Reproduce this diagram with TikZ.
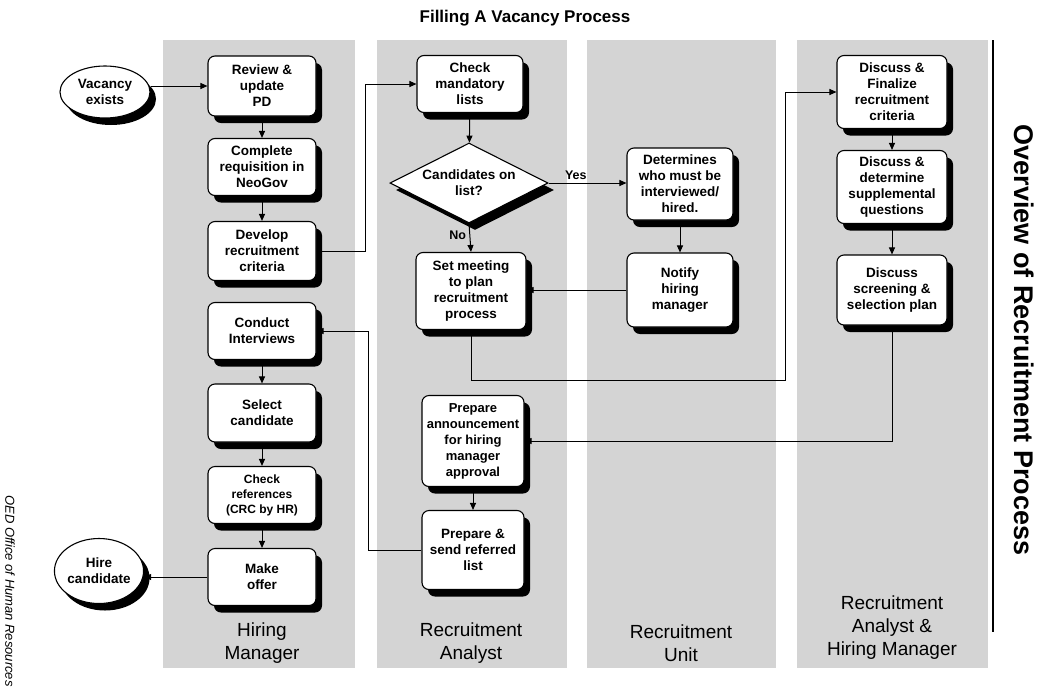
\documentclass[tikz,border=0pt]{standalone}
\usepackage{fontspec}
\setmainfont{Liberation Sans}
\usetikzlibrary{shapes.geometric,shadows,arrows.meta}
\begin{document}
\begin{tikzpicture}[x=1pt,y=-1pt,
  lane/.style={fill=black!17,draw=none},
  shad/.style={drop shadow={shadow xshift=6pt,shadow yshift=-7pt,opacity=1,fill=black}},
  box/.style={shad,draw=black,line width=1.1pt,fill=white,rounded corners=7pt,align=center,
    font=\fontsize{13.5}{16}\selectfont\bfseries,inner sep=1pt},
  term/.style={shad,ellipse,draw=black,line width=1.1pt,fill=white,align=center,
    font=\fontsize{13.5}{16}\selectfont\bfseries,inner sep=0pt},
  decis/.style={shad,diamond,aspect=2,draw=black,line width=1.1pt,fill=white,align=center,
    font=\fontsize{13.5}{16}\selectfont\bfseries,inner sep=0pt},
  arr/.style={draw=black,line width=1pt,-{Triangle[length=7pt,width=6pt]}},
  lanelbl/.style={align=center,font=\fontsize{19}{23}\selectfont},
  small/.style={font=\fontsize{12.5}{14}\selectfont\bfseries}
]
\useasboundingbox (0,0) rectangle (1045,689);
% lanes
\fill[lane] (163,40) rectangle (355,668);
\fill[lane] (377,40) rectangle (567,668);
\fill[lane] (587,40) rectangle (776,668);
\fill[lane] (797,40) rectangle (988,668);

% titles
\node[font=\fontsize{17}{20}\selectfont\bfseries] (title) at (525,18) {Filling A Vacancy Process};
\node[font=\fontsize{27}{30}\selectfont\bfseries,rotate=-90] (overview) at (1024,340) {Overview of Recruitment Process};
\node[font=\fontsize{13}{15}\selectfont\itshape,rotate=-90] (oed) at (10,591) {OED Office of Human Resources};
\coordinate (vt) at (993,40);
\coordinate (vb) at (993,632);
\draw[line width=2pt] (vt) -- (vb);

% lane labels
\node[lanelbl] (l1) at (262,643) {Hiring\\Manager};
\node[lanelbl] (l2) at (471,643) {Recruitment\\Analyst};
\node[lanelbl] (l3) at (681,643) {Recruitment\\Unit};
\node[lanelbl] (l4) at (892,628) {Recruitment\\Analyst \&\\Hiring Manager};

% Hiring manager lane
\node[term,minimum width=90pt,minimum height=52pt] (vac) at (105,92) {Vacancy\\exists};
\node[box,minimum width=108pt,minimum height=60pt] (rev) at (262,86) {Review \&\\update\\PD};
\node[box,minimum width=108pt,minimum height=57pt] (req) at (262,167) {Complete\\requisition in\\NeoGov};
\node[box,minimum width=108pt,minimum height=59pt] (dev) at (262,251) {Develop\\recruitment\\criteria};
\node[box,minimum width=108pt,minimum height=57pt] (cond) at (262,331) {Conduct\\Interviews};
\node[box,minimum width=108pt,minimum height=58pt] (sel) at (262,413) {Select\\candidate};
\node[box,minimum width=108pt,minimum height=57pt,font=\fontsize{12}{15}\selectfont\bfseries] (ref) at (262,495) {Check\\references\\(CRC by HR)};
\node[box,minimum width=108pt,minimum height=57pt] (off) at (262,577) {Make\\offer};
\node[term,minimum width=82pt,minimum height=65pt] (hire) at (99,571) {Hire\\candidate};

% Recruitment analyst lane
\node[box,minimum width=106pt,minimum height=57pt] (chk) at (470,84) {Check\\mandatory\\lists};
\node[decis,minimum width=158pt,minimum height=80pt] (dia) at (469,183) {Candidates on\\list?};
\node[box,minimum width=110pt,minimum height=77pt] (setm) at (471,291) {Set meeting\\to plan\\recruitment\\process};
\node[box,minimum width=102pt,minimum height=91pt,font=\fontsize{13}{16}\selectfont\bfseries] (ann) at (473,441) {Prepare\\announcement\\for hiring\\manager\\approval};
\node[box,minimum width=102pt,minimum height=79pt] (send) at (473,550) {Prepare \&\\send referred\\list};

% Recruitment unit lane
\node[box,minimum width=106pt,minimum height=72pt] (det) at (680,184) {Determines\\who must be\\interviewed/\\hired.};
\node[box,minimum width=106pt,minimum height=74pt] (ntf) at (680,290) {Notify\\hiring\\manager};

% Analyst & manager lane
\node[box,minimum width=110pt,minimum height=73pt] (fin) at (892,92) {Discuss \&\\Finalize\\recruitment\\criteria};
\node[box,minimum width=110pt,minimum height=73pt] (sup) at (892,187) {Discuss \&\\determine\\supplemental\\questions};
\node[box,minimum width=110pt,minimum height=70pt] (scr) at (892,290) {Discuss\\screening \&\\selection plan};

% connectors
\draw[arr] (vac.east |- rev.west) -- (rev.west);
\draw[arr] (rev) -- (req);
\draw[arr] (req) -- (dev);
\coordinate (c1) at (365,0);
\draw[arr] (dev.east) -- (dev.east -| c1) |- (chk.west);
\draw[arr] (chk) -- (dia);
\draw[arr] (dia.east) -- node[small,above,pos=0.35] (yes) {Yes} (dia.east -| det.west);
\draw[arr] (dia.south) -- node[small,left,pos=0.4] (no) {No} (setm.north);
\draw[arr] (det) -- (ntf);
\draw[arr] (ntf.west) -- (ntf.west -| setm.east);
\coordinate (c2) at (785,380);
\draw[arr] (setm.south) |- (c2) |- (fin.west);
\draw[arr] (fin) -- (sup);
\draw[arr] (sup) -- (scr);
\draw[arr] (scr.south) |- (ann.east);
\draw[arr] (ann) -- (send);
\coordinate (c3) at (368,0);
\draw[arr] (send.west) -- (send.west -| c3) |- (cond.east);
\draw[arr] (cond) -- (sel);
\draw[arr] (sel) -- (ref);
\draw[arr] (ref) -- (off);
\draw[arr] (off.west) -- (off.west -| hire.east);
\end{tikzpicture}
\end{document}
